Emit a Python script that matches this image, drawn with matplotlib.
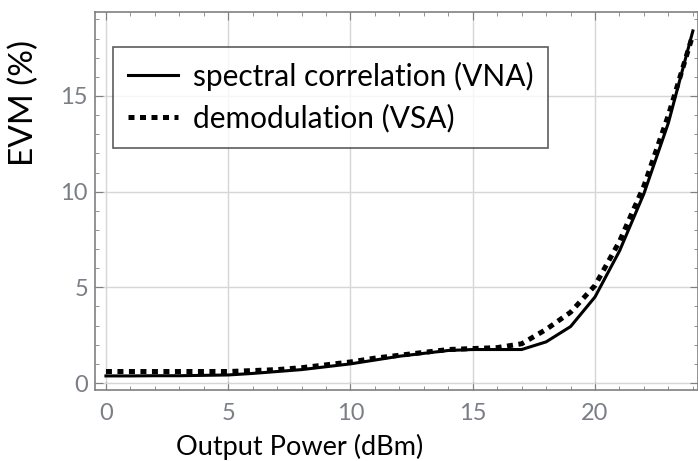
import numpy as np
import matplotlib
matplotlib.use('Agg')
from matplotlib import pyplot as plt
from matplotlib.ticker import MultipleLocator

# EVM vs output power
power = [0, 1, 2, 3, 4, 5, 6, 7, 8, 9, 10, 11, 12, 13, 14, 15, 16, 17, 18, 19, 20, 21, 22, 23, 24]
evm_vna = [0.37, 0.37, 0.38, 0.38, 0.40, 0.42, 0.50, 0.60, 0.70, 0.85, 1.00, 1.20, 1.40, 1.55,
           1.70, 1.75, 1.75, 1.75, 2.15, 2.95, 4.50, 6.90, 9.90, 13.6, 18.4]
evm_vsa = [0.60, 0.60, 0.60, 0.60, 0.60, 0.60, 0.65, 0.70, 0.80, 0.95, 1.10, 1.30, 1.45, 1.60,
           1.75, 1.80, 1.85, 2.05, 2.80, 3.70, 5.10, 7.40, 10.3, 14.0, 18.2]

label_vna = 'spectral correlation (VNA)'
label_vsa = 'demodulation (VSA)'

plt.rcParams['font.family'] = ['Lato', 'DejaVu Sans']

fig = plt.figure(figsize=(6.98, 4.61), dpi=100)
ax = fig.add_axes([0.136, 0.154, 0.864, 0.82])

ax.plot(power, evm_vna, color='black', lw=2.2, label=label_vna)
ax.plot(power, evm_vsa, color='black', lw=3.6, linestyle=(0, (1.2, 1.1)), label=label_vsa)

ax.set_xlim(-0.45, 24.21)
ax.set_ylim(-0.366, 19.39)
ax.xaxis.set_major_locator(MultipleLocator(5))
ax.xaxis.set_minor_locator(MultipleLocator(1))
ax.yaxis.set_major_locator(MultipleLocator(5))
ax.yaxis.set_minor_locator(MultipleLocator(1))
ax.tick_params(which='both', direction='in', top=True, right=True, colors='#808080',
               labelcolor='#7a7e86', labelsize=17)
ax.tick_params(axis='x', which='major', pad=9)
ax.tick_params(axis='y', which='major', pad=5)
ax.tick_params(which='major', length=6)
ax.tick_params(which='minor', length=3)
ax.grid(True, which='major', color='#d6d6d6', lw=1)
for s in ax.spines.values():
    s.set_color('#808080')
    s.set_linewidth(1.2)

ax.set_xlabel('Output Power (dBm)', fontsize=19.5, color='black', va='top')
ax.xaxis.set_label_coords(0.339, -0.115)
ax.set_ylabel('EVM (%)', fontsize=24, color='black', va='center')
ax.yaxis.set_label_coords(-0.118, 0.76)

leg = ax.legend(loc='upper left', bbox_to_anchor=(0.030, 0.908), borderaxespad=0,
                fontsize=21.5, frameon=True, fancybox=False, edgecolor='#333333',
                handlelength=1.67, handletextpad=0.5, borderpad=0.5, labelspacing=0.45)
leg.get_frame().set_linewidth(1.2)

fig.savefig('out.png', dpi=100)
